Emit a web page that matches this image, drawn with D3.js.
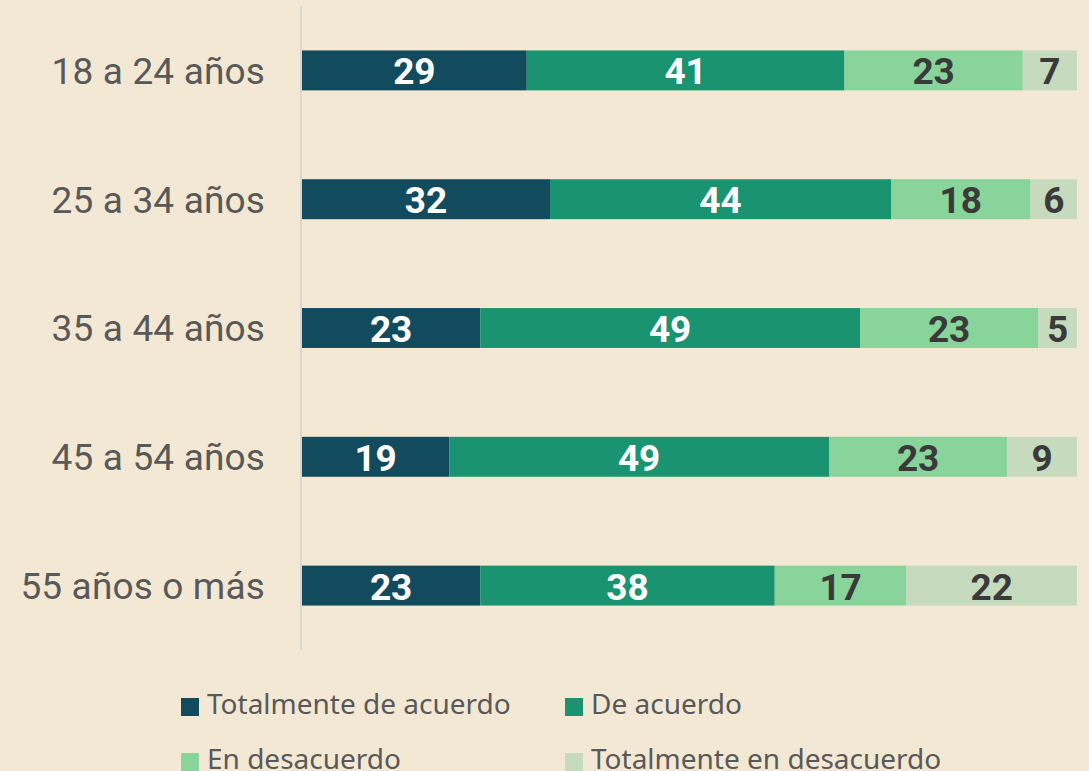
<!DOCTYPE html>
<html>
<head>
<meta charset="utf-8">
<script src="https://cdn.jsdelivr.net/npm/d3@7"></script>
<style>
  html, body { margin: 0; padding: 0; background: #f3e8d4; }
  svg { display: block; }
</style>
</head>
<body>
<div class="svg"></div>
<script>
const width = 1089
const height = 771

const groups = ['18 a 24 años', '25 a 34 años', '35 a 44 años', '45 a 54 años', '55 años o más']
const seriesNames = ['Totalmente de acuerdo', 'De acuerdo', 'En desacuerdo', 'Totalmente en desacuerdo']
const totalmenteDeAcuerdo = [29, 32, 23, 19, 23]
const deAcuerdo = [41, 44, 49, 49, 38]
const enDesacuerdo = [23, 18, 23, 23, 17]
const totalmenteEnDesacuerdo = [7, 6, 5, 9, 22]

const colors = ['#124b5e', '#1a9470', '#88d49a', '#c6dbbe']
const labelColors = ['#ffffff', '#ffffff', '#3a3a3a', '#3a3a3a']

const rows = groups.map((g, i) => ({
  group: g,
  [seriesNames[0]]: totalmenteDeAcuerdo[i],
  [seriesNames[1]]: deAcuerdo[i],
  [seriesNames[2]]: enDesacuerdo[i],
  [seriesNames[3]]: totalmenteEnDesacuerdo[i]
}))

const stacked = d3.stack().keys(seriesNames)(rows)

const svg = d3
  .select('.svg')
  .append('svg')
  .attr('width', width)
  .attr('height', height)

svg.append('rect').attr('width', width).attr('height', height).attr('fill', '#f3e8d4')

const xScale = d3.scaleLinear().domain([0, 100]).range([302, 1077])
const yScale = d3
  .scaleBand()
  .domain(groups)
  .range([6, 650])
  .paddingInner(0.69)
  .paddingOuter(0.345)

// vertical axis line
svg
  .append('line')
  .attr('x1', 301)
  .attr('x2', 301)
  .attr('y1', 6)
  .attr('y2', 650)
  .attr('stroke', '#d9d6cf')
  .attr('stroke-width', 2)

// category labels
svg
  .selectAll('.cat')
  .data(groups)
  .enter()
  .append('text')
  .attr('class', 'cat')
  .attr('x', 265)
  .attr('y', d => yScale(d) + yScale.bandwidth() / 2)
  .attr('dy', '0.36em')
  .attr('text-anchor', 'end')
  .attr('font-family', 'Roboto, sans-serif')
  .attr('font-size', 37)
  .attr('letter-spacing', 0.15)
  .attr('fill', '#595959')
  .text(d => d)

// bars
const layers = svg
  .selectAll('.layer')
  .data(stacked)
  .enter()
  .append('g')
  .attr('class', 'layer')

layers
  .selectAll('rect')
  .data(d => d)
  .enter()
  .append('rect')
  .attr('x', d => xScale(d[0]))
  .attr('y', d => yScale(d.data.group))
  .attr('width', d => xScale(d[1]) - xScale(d[0]))
  .attr('height', yScale.bandwidth())
  .attr('fill', function () {
    return colors[d3.select(this.parentNode).datum().index]
  })

layers
  .selectAll('text')
  .data(d => d.map(v => ({ v, i: d.index })))
  .enter()
  .append('text')
  .attr('x', d => (xScale(d.v[0]) + xScale(d.v[1])) / 2)
  .attr('y', d => yScale(d.v.data.group) + yScale.bandwidth() / 2)
  .attr('dy', '0.38em')
  .attr('text-anchor', 'middle')
  .attr('font-family', 'Roboto, sans-serif')
  .attr('font-weight', 'bold')
  .attr('font-size', 37)
  .attr('fill', d => labelColors[d.i])
  .text(d => d.v[1] - d.v[0])

// Legend
const legendPos = [[181, 714], [565, 714], [181, 769], [565, 769]]
const legend = svg.append('g').attr('id', 'legend')
seriesNames.forEach((name, i) => {
  legend
    .append('rect')
    .attr('x', legendPos[i][0])
    .attr('y', legendPos[i][1] - 16)
    .attr('width', 18)
    .attr('height', 18)
    .attr('fill', colors[i])
  legend
    .append('text')
    .attr('x', legendPos[i][0] + 26)
    .attr('y', legendPos[i][1])
    .attr('font-family', '"Noto Sans", sans-serif')
    .attr('font-size', 28)
    .attr('fill', '#595959')
    .text(name)
})
</script>
</body>
</html>
